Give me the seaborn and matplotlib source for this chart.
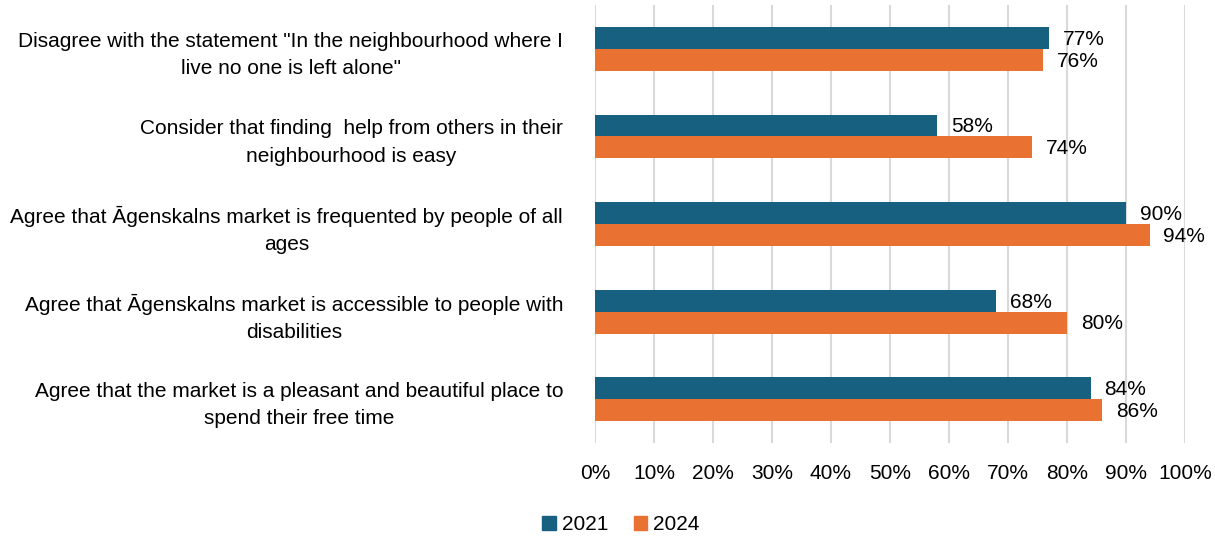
import matplotlib
matplotlib.use("Agg")
import matplotlib.pyplot as plt
import seaborn as sns
import pandas as pd
from matplotlib.ticker import PercentFormatter
from matplotlib.patches import Patch

categories = [
    'Disagree with the statement "In the neighbourhood where I\nlive no one is left alone"',
    'Consider that finding  help from others in their\nneighbourhood is easy',
    'Agree that Āgenskalns market is frequented by people of all\nages',
    'Agree that Āgenskalns market is accessible to people with\ndisabilities',
    'Agree that the market is a pleasant and beautiful place to\nspend their free time',
]
series_names = ["2021", "2024"]
values_2021 = [77, 58, 90, 68, 84]
values_2024 = [76, 74, 94, 80, 86]
colors = ["#18607F", "#E97132"]

df = pd.DataFrame({
    "category": categories * 2,
    "year": [series_names[0]] * 5 + [series_names[1]] * 5,
    "value": values_2021 + values_2024,
})

sns.set_theme(style="white")
plt.rcParams["font.family"] = ["Liberation Sans", "DejaVu Sans"]
plt.rcParams["text.color"] = "#000000"

fig = plt.figure(figsize=(12.15, 5.38), dpi=100)
ax = fig.add_axes([595 / 1215, 1 - 443 / 538, 590 / 1215, 438 / 538])

sns.barplot(data=df, y="category", x="value", hue="year", orient="h",
            palette=colors, width=0.5, ax=ax, legend=False, saturation=1,
            linewidth=0)

ax.set_xlim(0, 100)
ax.set_xticks(range(0, 101, 10))
ax.xaxis.set_major_formatter(PercentFormatter(decimals=0))
ax.grid(axis="x", color="#D9D9D9", linewidth=1.5)
ax.set_axisbelow(True)
for s in ax.spines.values():
    s.set_visible(False)
ax.set_xlabel("")
ax.set_ylabel("")
ax.tick_params(axis="x", labelsize=15, pad=15, length=0, labelcolor="#000000")
ax.tick_params(axis="y", labelsize=15, length=0, pad=23, labelcolor="#000000")
for lbl in ax.get_yticklabels():
    lbl.set_horizontalalignment("right")
    lbl.set_multialignment("center")
    lbl.set_linespacing(1.55)

for cont in ax.containers:
    for bar in cont:
        w = bar.get_width()
        ax.annotate(f"{w:.0f}%", (w, bar.get_y() + bar.get_height() / 2),
                    xytext=(10, -1), textcoords="offset points",
                    va="center", ha="left", fontsize=15, color="#000000")

handles = [Patch(color=c, label=n) for c, n in zip(colors, series_names)]
fig.legend(handles=handles, loc="center", bbox_to_anchor=(621 / 1215, 1 - 525 / 538),
           ncol=2, frameon=False, fontsize=15, handlelength=0.65, handleheight=0.65,
           handletextpad=0.3, columnspacing=1.2)

fig.savefig("out.png", dpi=100)
